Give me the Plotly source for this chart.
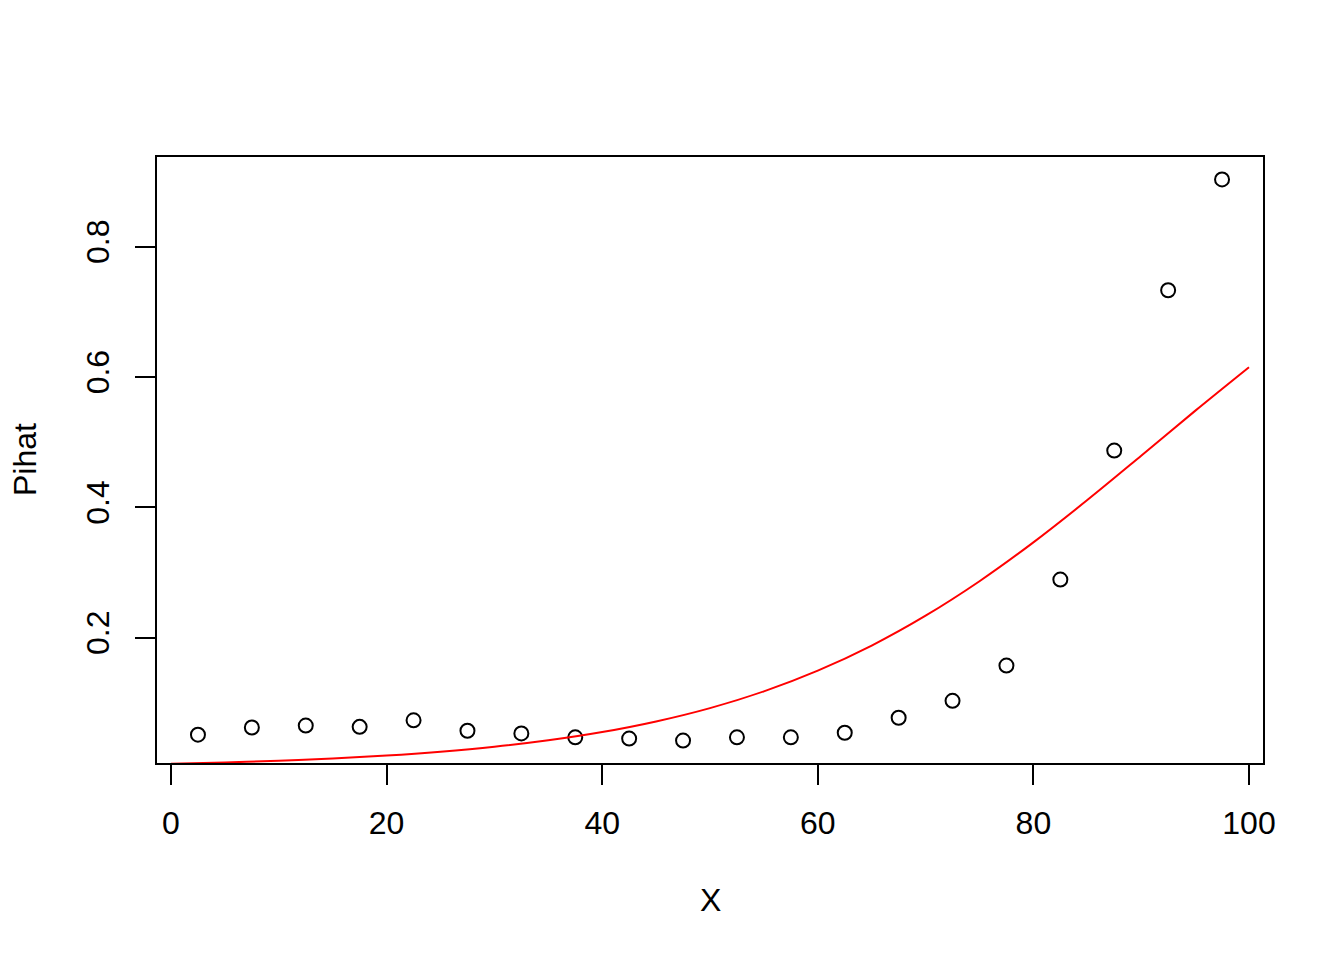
import plotly.graph_objects as go

# Observed proportions (points)
x_points = [2.5, 7.5, 12.5, 17.5, 22.5, 27.5, 32.5, 37.5, 42.5, 47.5,
            52.5, 57.5, 62.5, 67.5, 72.5, 77.5, 82.5, 87.5, 92.5, 97.5]
pihat = [0.051, 0.062, 0.065, 0.063, 0.073, 0.057, 0.053, 0.047, 0.045, 0.042,
         0.047, 0.047, 0.054, 0.077, 0.103, 0.157, 0.289, 0.487, 0.733, 0.903]

# Fitted curve (red line)
x_curve = [0, 5, 10, 15, 20, 25, 30, 35, 40, 45, 50,
           55, 60, 65, 70, 75, 80, 85, 90, 95, 100]
p_curve = [0.0064, 0.0084, 0.0110, 0.0144, 0.0189, 0.0248, 0.0324, 0.0423, 0.0550, 0.0713, 0.0918,
           0.1175, 0.1493, 0.1878, 0.2336, 0.2865, 0.3461, 0.4110, 0.4790, 0.5479, 0.6149]

x_ticks = [0, 20, 40, 60, 80, 100]
y_ticks = [0.2, 0.4, 0.6, 0.8]
y_ticklabels = ["0.2", "0.4", "0.6", "0.8"]

FONT = "Liberation Sans, Arial, Helvetica, sans-serif"
FS = 32

xr = max(x_points) - min(x_points)
yr = max(pihat) - min(pihat)
x_range = [min(x_points) - 0.04 * xr, max(x_points) + 0.04 * xr]
y_range = [min(pihat) - 0.04 * yr, max(pihat) + 0.04 * yr]

fig = go.Figure()
fig.add_trace(go.Scatter(
    x=x_points, y=pihat, mode="markers",
    marker=dict(symbol="circle-open", size=14, color="black", line=dict(width=2, color="black")),
    showlegend=False, hoverinfo="skip"))
fig.add_trace(go.Scatter(
    x=x_curve, y=p_curve, mode="lines", line=dict(color="#FF0000", width=2, shape="spline"),
    showlegend=False, hoverinfo="skip"))

fig.update_layout(
    width=1344, height=960,
    margin=dict(l=149, r=89, t=149, b=205),
    paper_bgcolor="white", plot_bgcolor="white",
    font=dict(family=FONT, size=FS, color="black"),
    xaxis=dict(range=x_range, tickvals=x_ticks, ticks="outside", ticklen=20, tickwidth=2,
               tickcolor="black", showline=True, linecolor="black", linewidth=2, mirror=True,
               showgrid=False, zeroline=False, tickfont=dict(family=FONT, size=FS),
               ticklabelstandoff=11),
    yaxis=dict(range=y_range, tickvals=y_ticks, ticktext=y_ticklabels, ticks="outside",
               ticklen=20, tickwidth=2, tickcolor="black", showline=True, linecolor="black",
               linewidth=2, mirror=True, showgrid=False, zeroline=False, tickangle=-90,
               tickfont=dict(family=FONT, size=FS), ticklabelstandoff=13),
    annotations=[
        dict(text="X", xref="paper", yref="paper", x=0.5, y=-(900 - 763) / 606,
             xanchor="center", yanchor="middle", showarrow=False,
             font=dict(family=FONT, size=FS)),
        dict(text="Pihat", xref="paper", yref="paper", x=(25 - 157) / 1106, y=0.5,
             xanchor="center", yanchor="middle", showarrow=False, textangle=-90,
             font=dict(family=FONT, size=FS)),
    ],
)

fig.write_html("out.html")
